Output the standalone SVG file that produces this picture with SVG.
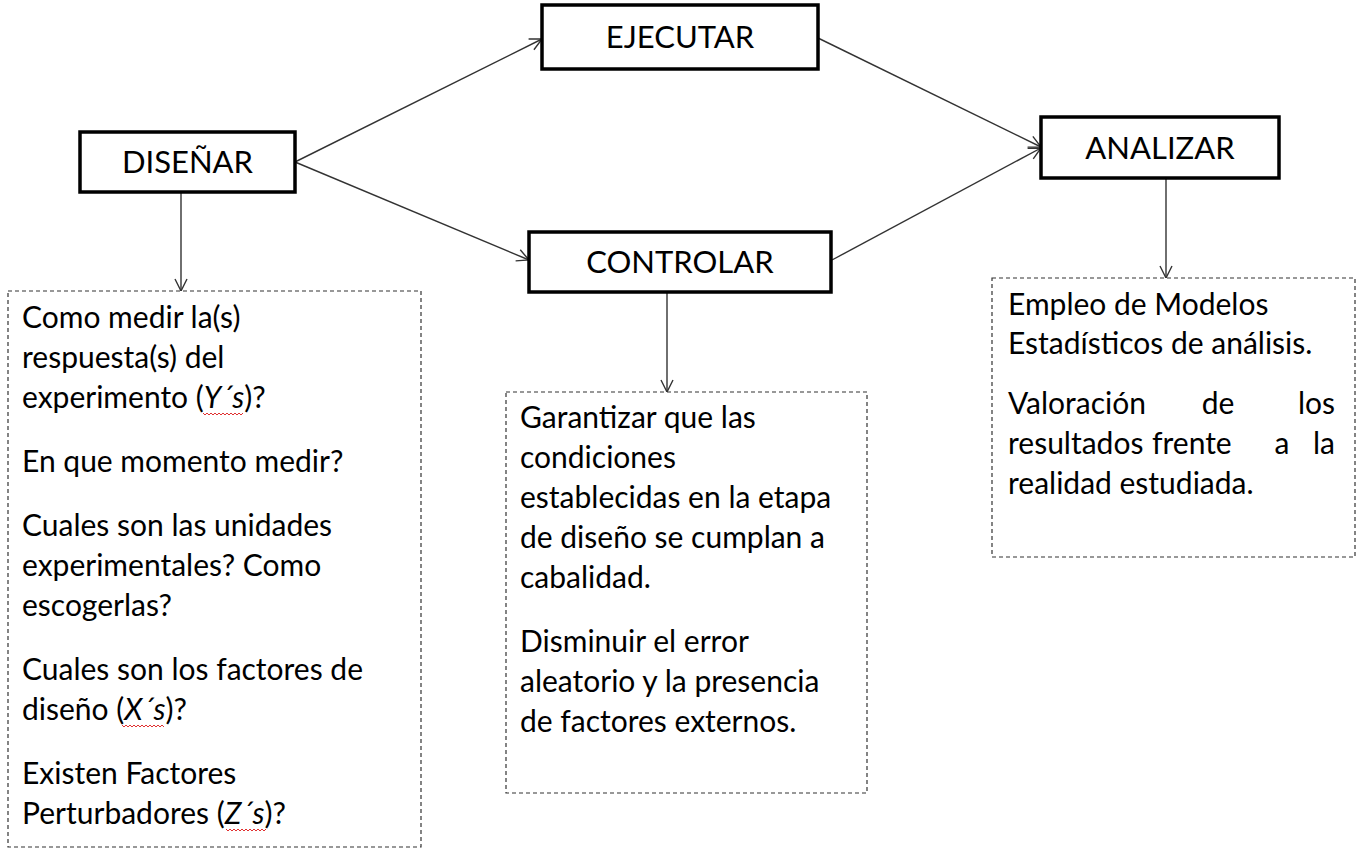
<svg xmlns="http://www.w3.org/2000/svg" width="1368" height="860" viewBox="0 0 1368 860">
<style>
.node{fill:#fff;stroke:#000;stroke-width:3.5}
.note{fill:#fff;stroke:#333;stroke-width:1.2;stroke-dasharray:4 3}
.lbl{font-family:Lato,"Liberation Sans",sans-serif;font-size:31px;fill:#000;text-anchor:middle}
.txt{font-family:Lato,"Liberation Sans",sans-serif;font-size:30px;fill:#000}
.it{font-style:italic}
.conn{stroke:#333;stroke-width:1.4;fill:none;marker-end:url(#ah)}
.sq{stroke:#e03030;stroke-width:1;fill:none}
</style>
<defs>
<marker id="ah" markerUnits="userSpaceOnUse" markerWidth="14" markerHeight="14" viewBox="0 0 14 14" refX="13" refY="7" orient="auto">
<path d="M1,1 L13,7 L1,13" fill="none" stroke="#333" stroke-width="1.4"/>
</marker>
</defs>
<rect width="1368" height="860" fill="#fff"/>
<g id="connectors">
<line class="conn" x1="295" y1="162" x2="542" y2="39"/>
<line class="conn" x1="295" y1="162" x2="529" y2="260"/>
<line class="conn" x1="818" y1="38" x2="1041" y2="147"/>
<line class="conn" x1="832" y1="260" x2="1041" y2="148"/>
<line class="conn" x1="181" y1="193" x2="181" y2="291"/>
<line class="conn" x1="667" y1="293" x2="667" y2="392"/>
<line class="conn" x1="1166" y1="179" x2="1166" y2="278"/>
</g>
<g id="disenar">
<rect class="node" x="80" y="132" width="215" height="60"/>
<text class="lbl" x="187.5" y="173">DISEÑAR</text>
</g>
<g id="ejecutar">
<rect class="node" x="542" y="5" width="276" height="64"/>
<text class="lbl" x="680" y="48">EJECUTAR</text>
</g>
<g id="controlar">
<rect class="node" x="529" y="232" width="302" height="60"/>
<text class="lbl" x="680" y="273">CONTROLAR</text>
</g>
<g id="analizar">
<rect class="node" x="1041" y="117" width="238" height="61"/>
<text class="lbl" x="1160" y="159">ANALIZAR</text>
</g>
<g id="nota-disenar">
<rect class="note" x="8" y="291" width="413" height="556"/>
<text class="txt" x="22" y="328">Como medir la(s)</text>
<text class="txt" x="22" y="368">respuesta(s) del</text>
<text class="txt" x="22" y="408">experimento (<tspan class="it">Y´s</tspan>)?</text>
<text class="txt" x="22" y="472">En que momento medir?</text>
<text class="txt" x="22" y="536">Cuales son las unidades</text>
<text class="txt" x="22" y="576">experimentales? Como</text>
<text class="txt" x="22" y="616">escogerlas?</text>
<text class="txt" x="22" y="680">Cuales son los factores de</text>
<text class="txt" x="22" y="720">diseño (<tspan class="it">X´s</tspan>)?</text>
<text class="txt" x="22" y="784">Existen Factores</text>
<text class="txt" x="22" y="824">Perturbadores (<tspan class="it">Z´s</tspan>)?</text>
<path class="sq" d="M203,413 l2,2 l2,-2 l2,2 l2,-2 l2,2 l2,-2 l2,2 l2,-2 l2,2 l2,-2 l2,2 l2,-2 l2,2 l2,-2 l2,2 l2,-2 l2,2 l2,-2 l2,2 l2,-2"/>
<path class="sq" d="M122,725 l2,2 l2,-2 l2,2 l2,-2 l2,2 l2,-2 l2,2 l2,-2 l2,2 l2,-2 l2,2 l2,-2 l2,2 l2,-2 l2,2 l2,-2 l2,2 l2,-2 l2,2 l2,-2 l2,2"/>
<path class="sq" d="M226,829 l2,2 l2,-2 l2,2 l2,-2 l2,2 l2,-2 l2,2 l2,-2 l2,2 l2,-2 l2,2 l2,-2 l2,2 l2,-2 l2,2 l2,-2 l2,2 l2,-2 l2,2 l2,-2"/>
</g>
<g id="nota-controlar">
<rect class="note" x="506" y="392" width="361" height="401"/>
<text class="txt" x="520" y="428">Garantizar que las</text>
<text class="txt" x="520" y="468">condiciones</text>
<text class="txt" x="520" y="508">establecidas en la etapa</text>
<text class="txt" x="520" y="548">de diseño se cumplan a</text>
<text class="txt" x="520" y="588">cabalidad.</text>
<text class="txt" x="520" y="652">Disminuir el error</text>
<text class="txt" x="520" y="692">aleatorio y la presencia</text>
<text class="txt" x="520" y="732">de factores externos.</text>
</g>
<g id="nota-analizar">
<rect class="note" x="992" y="278" width="363" height="279"/>
<text class="txt" x="1008" y="315">Empleo de Modelos</text>
<text class="txt" x="1008" y="354">Estadísticos de análisis.</text>
<text class="txt" x="1008" y="414">Valoración</text>
<text class="txt" x="1218" y="414" text-anchor="middle">de</text>
<text class="txt" x="1335" y="414" text-anchor="end">los</text>
<text class="txt" x="1008" y="454">resultados</text>
<text class="txt" x="1152" y="454">frente</text>
<text class="txt" x="1282" y="454" text-anchor="middle">a</text>
<text class="txt" x="1335" y="454" text-anchor="end">la</text>
<text class="txt" x="1008" y="494">realidad estudiada.</text>
</g>
</svg>
